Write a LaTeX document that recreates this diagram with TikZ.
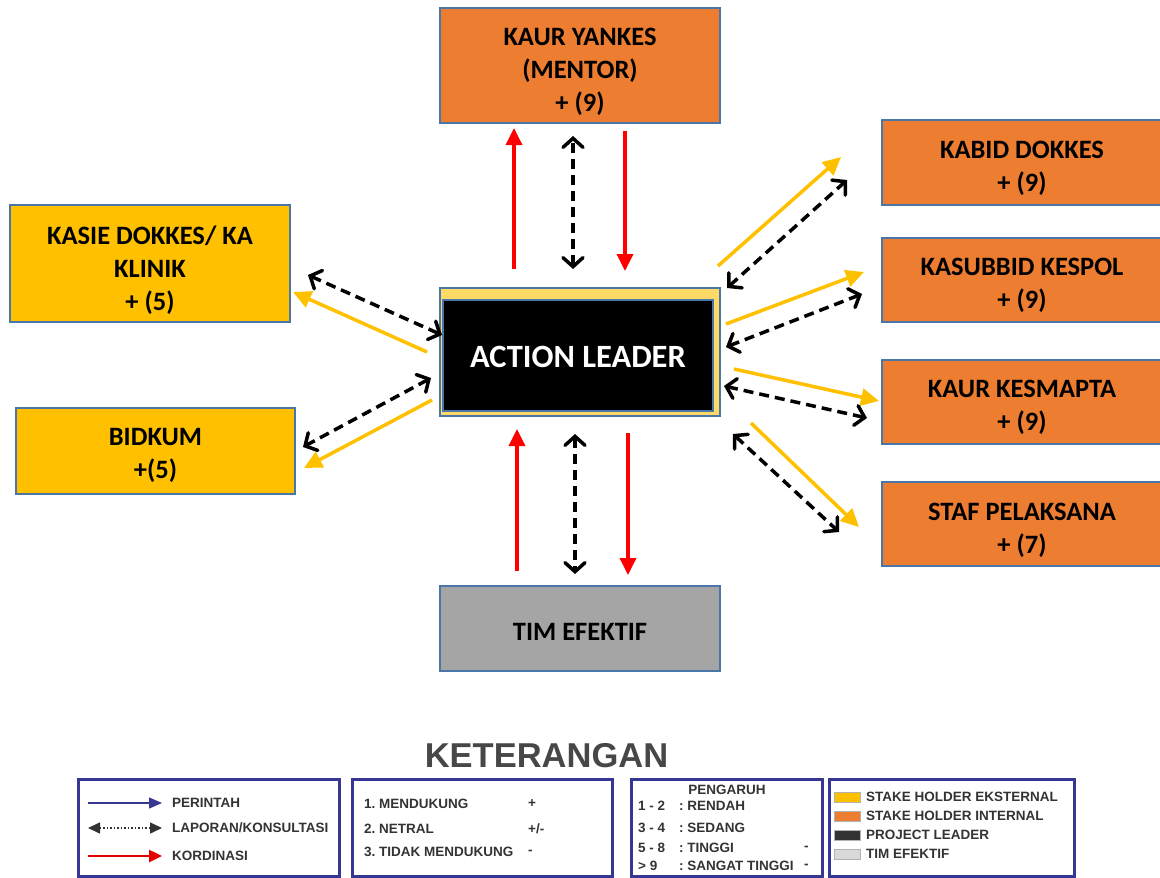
\documentclass[tikz,border=0pt]{standalone}
\usepackage{fontspec}
\setmainfont{Carlito}
\newfontfamily\legfont{Liberation Sans}
\usetikzlibrary{arrows.meta,calc}

\definecolor{oranye}{HTML}{ED7D31}
\definecolor{kuning}{HTML}{FFC000}
\definecolor{kuningmuda}{HTML}{FFD966}
\definecolor{abu}{HTML}{A5A5A5}
\definecolor{garis}{HTML}{4A76A8}
\definecolor{navy}{HTML}{363693}
\definecolor{merah}{HTML}{FF0000}
\definecolor{teks}{HTML}{333333}
\newcommand{\atas}[1]{\rule{0pt}{#1pt}}

\begin{document}
\begin{tikzpicture}[
    x=1pt, y=-1pt,
    box/.style={draw=garis, line width=2pt, inner sep=0pt, align=center,
      minimum width=280pt, font=\bfseries\fontsize{26.5}{33}\selectfont},
    turun/.style={execute at begin node={\rule{0pt}{#1}}},
    intbox/.style={box, fill=oranye},
    extbox/.style={box, fill=kuning},
    kord/.style={merah, line width=3.5pt, -{Triangle[length=17pt,width=16pt]}},
    ekst/.style={kuning, line width=3.5pt, -{Triangle[length=18pt,width=17pt]}},
    lapor/.style={black, line width=3.5pt, dash pattern=on 10pt off 6pt,
      {Straight Barb[length=9pt,width=20pt,line cap=round]}-{Straight Barb[length=9pt,width=20pt,line cap=round]}},
    legbox/.style={draw=navy, line width=3pt},
    legtext/.style={font=\legfont\bfseries\fontsize{13.5}{15}\selectfont\frenchspacing, text=teks,
      inner sep=0pt, anchor=west},
    swatch/.style={draw=gray!60, line width=0.6pt, minimum width=26pt, minimum height=10pt, inner sep=0pt},
    ]
    \useasboundingbox (0,0) rectangle (1160,878);

    % stakeholder boxes
    \node[intbox, minimum height=115pt] (ky) at (580,65.5) {\atas{31}KAUR YANKES\\(MENTOR)\\+ (9)};
    \node[intbox, minimum height=85pt] (kb) at (1022,162.5) {\atas{29}KABID DOKKES\\+ (9)};
    \node[intbox, minimum height=84pt] (ks) at (1022,280) {\atas{29}KASUBBID KESPOL\\+ (9)};
    \node[intbox, minimum height=84pt] (kk) at (1022,402) {\atas{29}KAUR KESMAPTA\\+ (9)};
    \node[intbox, minimum height=84pt] (sp) at (1022,524) {\atas{29}STAF PELAKSANA\\+ (7)};
    \node[extbox, minimum height=117pt] (kd) at (150,263.5) {\atas{33}KASIE DOKKES/ KA\\KLINIK\\+ (5)};
    \node[extbox, minimum height=86pt, minimum width=279pt] (bd) at (155.5,451) {\atas{27}BIDKUM\\+(5)};
    \node[box, fill=abu, minimum height=85pt, turun=23pt] (te) at (580,628.5) {TIM EFEKTIF};

    % action leader
    \node[box, fill=kuningmuda, minimum height=128pt] (al) at (580,352) {};
    \node[box, fill=black, text=white, minimum width=270pt, minimum height=111pt, turun=24.5pt,
      font=\bfseries\fontsize{32.5}{33}\selectfont] (alin) at ($(al.center)+(-2,3.5)$) {ACTION LEADER};

    % atas
    \draw[kord] ($(al.north)+(-66,-18)$) -- ($(ky.south)+(-66,4)$);
    \draw[lapor] ($(al.north)+(-7,-18)$) -- ($(ky.south)+(-7,12)$);
    \draw[kord] ($(ky.south)+(45,7)$) -- ($(al.north)+(45,-16)$);
    % bawah
    \draw[kord] ($(te.north)+(-63,-14)$) -- ($(al.south)+(-63,12)$);
    \draw[lapor] ($(al.south)+(-5,17)$) -- ($(te.north)+(-5,-11)$);
    \draw[kord] ($(al.south)+(48,16)$) -- ($(te.north)+(48,-10)$);
    % kiri
    \draw[lapor] ($(kd.east)+(17,11.5)$) -- ($(al.west)+(3,-17)$);
    \draw[ekst] ($(al.west)+(-12,0)$) -- ($(kd.east)+(2,28.5)$);
    \draw[lapor] ($(al.west)+(-8,26)$) -- ($(bd.east)+(7,-4)$);
    \draw[ekst] ($(al.west)+(-7,48)$) -- ($(bd.east)+(8,17)$);
    % kanan
    \draw[ekst] ($(al.east)+(-3,-86)$) -- ($(kb.west)+(-40,-5.5)$);
    \draw[lapor] ($(al.east)+(6,-64)$) -- ($(kb.west)+(-34,17.5)$);
    \draw[ekst] ($(al.east)+(5,-28)$) -- ($(ks.west)+(-17,-8)$);
    \draw[lapor] ($(al.east)+(5,-5)$) -- ($(ks.west)+(-19,14)$);
    \draw[ekst] ($(al.east)+(13,17)$) -- ($(kk.west)+(-2,-1)$);
    \draw[lapor] ($(al.east)+(3,34)$) -- ($(kk.west)+(-14,16)$);
    \draw[ekst] ($(al.east)+(30,71)$) -- ($(sp.west)+(-22,3)$);
    \draw[lapor] ($(al.east)+(12,82)$) -- ($(sp.west)+(-42,8)$);

    % keterangan
    \node[font=\legfont\bfseries\fontsize{34.5}{36}\selectfont, text=teks!90!white, inner sep=0pt]
      (ket) at (546.5,756) {KETERANGAN};
    \draw[legbox] (78,779) rectangle (339,876);
    \draw[legbox] (352,779) rectangle (612,876);
    \draw[legbox] (631,779) rectangle (822,876);
    \draw[legbox] (829,779) rectangle (1074,876);

    \node[legtext] (l1) at (172,803) {PERINTAH};
    \node[legtext] (l2) at (172,828) {LAPORAN/KONSULTASI};
    \node[legtext] (l3) at (172,856) {KORDINASI};
    \draw[navy, line width=1.3pt, -{Triangle[length=13pt,width=11pt]}] ($(l1.west)+(-84,0)$) -- ($(l1.west)+(-10,0)$);
    \draw[teks, line width=1.5pt, dotted, {Triangle[length=12pt,width=11pt]}-{Triangle[length=12pt,width=11pt]}]
      ($(l2.west)+(-84,0)$) -- ($(l2.west)+(-10,0)$);
    \draw[merah!90!black, line width=2.5pt, -{Triangle[length=13pt,width=12pt]}] ($(l3.west)+(-84,0)$) -- ($(l3.west)+(-10,0)$);

    \node[legtext] (m1) at (364,804) {1. MENDUKUNG};
    \node[legtext] (m2) at (364,829) {2. NETRAL};
    \node[legtext] (m3) at (364,852) {3. TIDAK MENDUKUNG};
    \node[legtext] (n1) at (528,804) {+};
    \node[legtext] (n2) at (528,829) {+/-};
    \node[legtext] (n3) at (528,852) {-};

    \node[legtext, anchor=center] (p0) at (727,790) {PENGARUH};
    \node[legtext] (p1) at (638,806) {1 - 2};
    \node[legtext] (p2) at (638,828) {3 - 4};
    \node[legtext] (p3) at (638,848) {5 - 8};
    \node[legtext] (p4) at (638,866) {> 9};
    \node[legtext] (q1) at (679,806) {: RENDAH};
    \node[legtext] (q2) at (679,828) {: SEDANG};
    \node[legtext] (q3) at (679,848) {: TINGGI};
    \node[legtext] (q4) at (679,866) {: SANGAT TINGGI};
    \node[legtext] (r3) at (804,848) {-};
    \node[legtext] (r4) at (804,866) {-};

    \node[swatch, fill=kuning] (s1) at (847,797) {};
    \node[swatch, fill=oranye] (s2) at (847,816) {};
    \node[swatch, fill=teks] (s3) at (847,835) {};
    \node[swatch, fill=gray!30] (s4) at (847,854) {};
    \node[legtext] (t1) at (866,797) {STAKE HOLDER EKSTERNAL};
    \node[legtext] (t2) at (866,816) {STAKE HOLDER INTERNAL};
    \node[legtext] (t3) at (866,835) {PROJECT LEADER};
    \node[legtext] (t4) at (866,854) {TIM EFEKTIF};
  \end{tikzpicture}
\end{document}
